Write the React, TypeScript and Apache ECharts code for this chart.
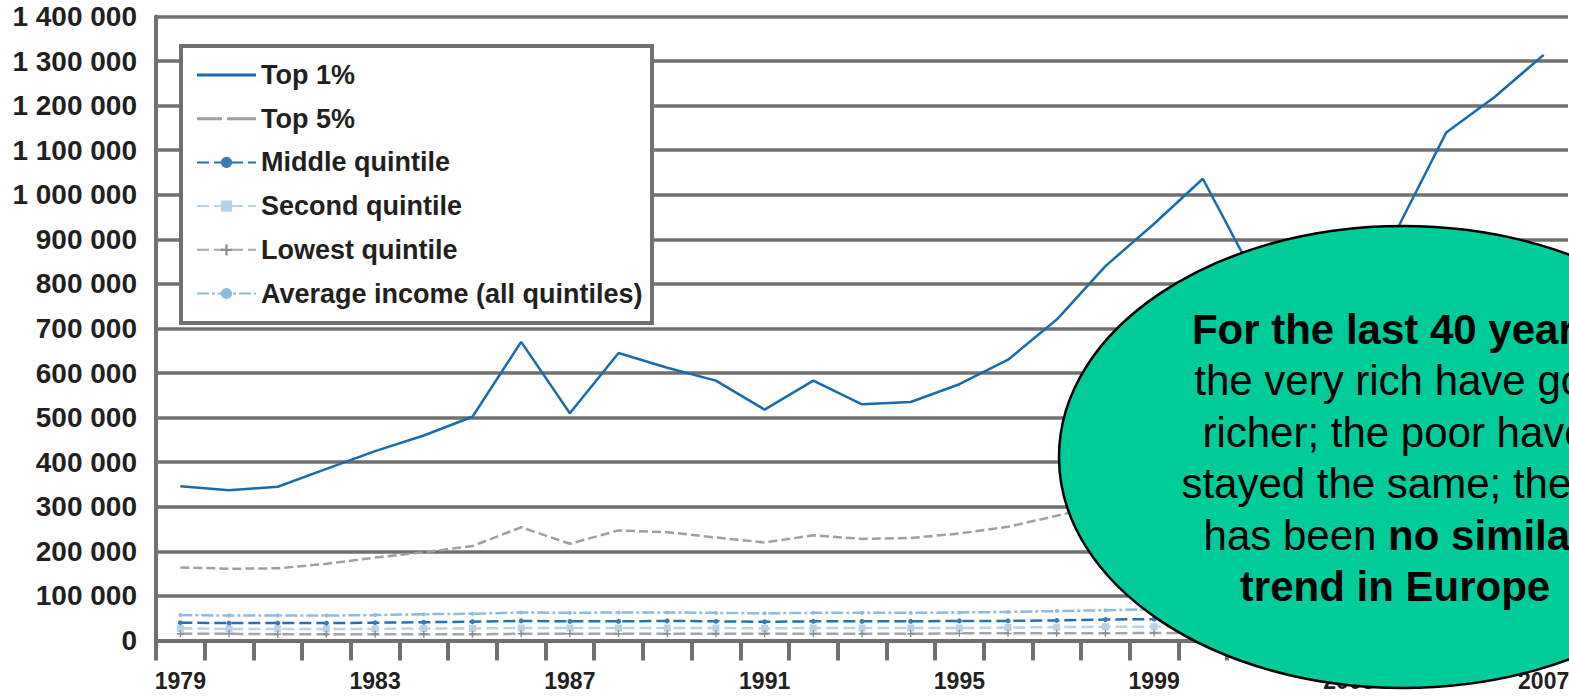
import React, { useEffect, useRef } from "react";
import * as echarts from "echarts";

const years = [
  "1979", "1980", "1981", "1982", "1983", "1984", "1985", "1986", "1987", "1988",
  "1989", "1990", "1991", "1992", "1993", "1994", "1995", "1996", "1997", "1998",
  "1999", "2000", "2001", "2002", "2003", "2004", "2005", "2006", "2007",
];

const top1Pct = [
  346000, 337000, 345000, 385000, 425000, 460000, 502000, 670000, 510000, 645000,
  612000, 583000, 518000, 583000, 530000, 535000, 575000, 630000, 720000, 840000,
  935000, 1036000, 830000, 740000, 790000, 925000, 1140000, 1220000, 1314000,
];

const top5Pct = [
  164000, 161000, 162000, 172000, 186000, 198000, 212000, 254000, 217000, 247000,
  243000, 231000, 220000, 236000, 228000, 230000, 240000, 255000, 280000, 305000,
  330000, 360000, 320000, 300000, 310000, 340000, 390000, 420000, 450000,
];

const middleQuintile = [
  40000, 39000, 39000, 39000, 40000, 41000, 42000, 44000, 43000, 43000,
  44000, 43000, 42000, 43000, 43000, 43000, 44000, 44000, 45000, 47000,
  48000, 49000, 48000, 48000, 49000, 50000, 51000, 52000, 53000,
];

const secondQuintile = [
  27000, 26000, 26000, 26000, 26000, 27000, 27000, 28000, 28000, 28000,
  28000, 28000, 27000, 28000, 28000, 28000, 28000, 29000, 30000, 31000,
  31000, 32000, 32000, 32000, 32000, 32000, 33000, 33000, 34000,
];

const lowestQuintile = [
  15000, 15000, 14000, 14000, 14000, 14000, 14000, 15000, 15000, 15000,
  15000, 15000, 15000, 15000, 15000, 15000, 16000, 16000, 16000, 16000,
  17000, 17000, 17000, 17000, 16000, 16000, 17000, 17000, 17000,
];

const averageIncome = [
  57000, 56000, 56000, 56000, 57000, 59000, 60000, 63000, 62000, 63000,
  63000, 62000, 61000, 62000, 62000, 62000, 63000, 64000, 66000, 68000,
  70000, 71000, 68000, 67000, 68000, 70000, 73000, 75000, 77000,
];

const seriesNames = [
  "Top 1%",
  "Top 5%",
  "Middle quintile",
  "Second quintile",
  "Lowest quintile",
  "Average income (all quintiles)",
];

const FONT = "'Liberation Sans', Arial, sans-serif";
const GRID_COLOR = "#707070";
const TEXT_COLOR = "#231f20";
const TOP1_COLOR = "#1a6aae";
const TOP5_COLOR = "#a0a0a0";

const plusPath =
  "path://M4,0 L6,0 L6,4 L10,4 L10,6 L6,6 L6,10 L4,10 L4,6 L0,6 L0,4 L4,4 Z";
const solidIcon = "path://M0,0 H59 V3 H0 Z";
const dashedIcon = "path://M0,0 H25 V3 H0 Z M30,0 H59 V3 H30 Z";

function formatThousands(v: number): string {
  return String(v).replace(/\B(?=(\d{3})+(?!\d))/g, " ");
}

export default function App() {
  const ref = useRef<HTMLDivElement>(null);

  useEffect(() => {
    const chart = echarts.init(ref.current!, null, { renderer: "svg" });
    const option: any = {
      animation: false,
      backgroundColor: "#ffffff",
      grid: {
        left: 156,
        right: 1,
        top: 16.5,
        bottom: 55.5,
        containLabel: false,
        outerBoundsMode: "none",
      },
      xAxis: {
        type: "category",
        data: years,
        boundaryGap: true,
        axisLine: { show: true, lineStyle: { color: GRID_COLOR, width: 4 } },
        axisTick: {
          show: true,
          interval: 0,
          length: 20,
          lineStyle: { color: GRID_COLOR, width: 4 },
        },
        axisLabel: {
          interval: 3,
          margin: 29,
          fontFamily: FONT,
          fontSize: 23,
          fontWeight: "bold",
          color: TEXT_COLOR,
        },
        splitLine: { show: false },
      },
      yAxis: {
        type: "value",
        min: 0,
        max: 1400000,
        interval: 100000,
        axisLine: { show: true, lineStyle: { color: GRID_COLOR, width: 4 } },
        axisTick: { show: false },
        axisLabel: {
          margin: 19,
          fontFamily: FONT,
          fontSize: 28,
          fontWeight: "bold",
          color: TEXT_COLOR,
          padding: [8, 0, 0, 0],
          formatter: (v: number) => formatThousands(v),
        },
        splitLine: { show: true, lineStyle: { color: GRID_COLOR, width: 3.5 } },
      },
      legend: {
        orient: "vertical",
        left: 196,
        top: 61.5,
        padding: 0,
        itemGap: 16.7,
        itemWidth: 59,
        itemHeight: 14,
        data: [
          { name: seriesNames[0], icon: solidIcon, itemStyle: { color: TOP1_COLOR } },
          { name: seriesNames[1], icon: dashedIcon, itemStyle: { color: TOP5_COLOR } },
          { name: seriesNames[2] },
          { name: seriesNames[3] },
          { name: seriesNames[4] },
          { name: seriesNames[5] },
        ],
        textStyle: {
          fontFamily: FONT,
          fontSize: 27,
          fontWeight: "bold",
          color: TEXT_COLOR,
        },
        z: 6,
      },
      series: [
        {
          name: seriesNames[0],
          type: "line",
          data: top1Pct,
          symbol: "none",
          lineStyle: { color: TOP1_COLOR, width: 2.5 },
          itemStyle: { color: TOP1_COLOR },
          z: 5,
        },
        {
          name: seriesNames[1],
          type: "line",
          data: top5Pct,
          symbol: "none",
          lineStyle: { color: TOP5_COLOR, width: 2.5, type: [9, 4] },
          itemStyle: { color: TOP5_COLOR },
          z: 4,
        },
        {
          name: seriesNames[2],
          type: "line",
          data: middleQuintile,
          symbol: "circle",
          symbolSize: 5,
          lineStyle: { color: "#2a6fb0", width: 2.5, type: [12, 5] },
          itemStyle: { color: "#3d7ab8" },
          z: 4,
        },
        {
          name: seriesNames[3],
          type: "line",
          data: secondQuintile,
          symbol: "rect",
          symbolSize: 7,
          lineStyle: { color: "#b7d3e8", width: 2.5, type: [12, 5] },
          itemStyle: { color: "#b7d3e8" },
          z: 3,
        },
        {
          name: seriesNames[4],
          type: "line",
          data: lowestQuintile,
          symbol: plusPath,
          symbolSize: 7,
          lineStyle: { color: "#a6a6a6", width: 2.5, type: [12, 5] },
          itemStyle: { color: "#8c8c8c" },
          z: 3,
        },
        {
          name: seriesNames[5],
          type: "line",
          data: averageIncome,
          symbol: "circle",
          symbolSize: 4,
          lineStyle: { color: "#8fbbdc", width: 2.5, type: [12, 3, 3, 3] },
          itemStyle: { color: "#8fbbdc" },
          z: 3,
        },
      ],
      graphic: [
        {
          type: "rect",
          z: 5,
          shape: { x: 181, y: 46, width: 471, height: 277 },
          style: { fill: "#ffffff", stroke: GRID_COLOR, lineWidth: 4 },
        },
        {
          type: "ellipse",
          z: 100,
          shape: { cx: 1403, cy: 457, rx: 344, ry: 231 },
          style: { fill: "#00cc99", stroke: "#000000", lineWidth: 2.5 },
        },
        {
          type: "text",
          z: 101,
          x: 1395,
          y: 458,
          style: {
            text:
              "{b|For the last 40 years}\n{n|the very rich have got}\n{n|richer; the poor have}\n{n|stayed the same; there}\n{n|has been }{b|no similar}\n{b|trend in Europe}",
            textAlign: "center",
            textVerticalAlign: "middle",
            fontFamily: FONT,
            fontSize: 42,
            lineHeight: 51.5,
            fill: "#000000",
            rich: {
              b: {
                fontFamily: FONT,
                fontSize: 42,
                fontWeight: "bold",
                lineHeight: 51.5,
                fill: "#000000",
              },
              n: {
                fontFamily: FONT,
                fontSize: 42,
                fontWeight: "normal",
                lineHeight: 51.5,
                fill: "#000000",
              },
            },
          },
        },
      ],
    };
    chart.setOption(option);
    return () => chart.dispose();
  }, []);

  return (
    <div
      ref={ref}
      style={{
        position: "absolute",
        left: 0,
        top: 0,
        width: 1569,
        height: 696,
        background: "#ffffff",
      }}
    />
  );
}
